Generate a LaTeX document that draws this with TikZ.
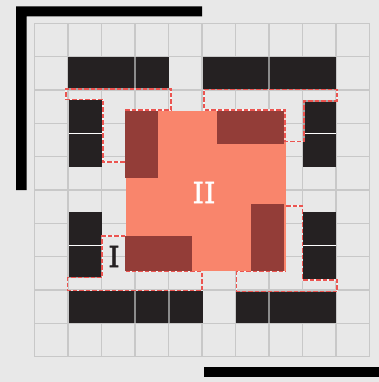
\documentclass[tikz,border=0pt]{standalone}
\usepackage{fontspec}
\setmainfont{DejaVu Serif}
\newfontfamily\labelfont[FakeBold=1.6]{DejaVu Serif}
\definecolor{bgc}{HTML}{E8E8E8}
\definecolor{gridc}{HTML}{C8C8C8}
\definecolor{blockc}{HTML}{252122}
\definecolor{salmonc}{HTML}{F9856C}
\definecolor{brickc}{HTML}{933D38}
\definecolor{dashc}{HTML}{EB5450}
\tikzset{
  barstyle/.style={fill=black,draw=none},
  blockstyle/.style={fill=blockc,draw=none},
  brickstyle/.style={fill=brickc,draw=none},
  sepgray/.style={draw=gridc!70!black,line width=1.1pt},
  sepwhite/.style={draw=white,line width=1pt},
  dashline/.style={draw=dashc,line width=1.4pt,dash pattern=on 4.5pt off 2pt,
    preaction={draw=white,draw opacity=.6,line width=1.6pt,solid}},
}
\begin{document}
\begin{tikzpicture}[x=1pt,y=-1pt]
\useasboundingbox (0,0) rectangle (379,382);
\fill[bgc] (0,0) rectangle (379,382);
% grid
\foreach \k in {0,...,10}{
  \draw[gridc,line width=1.5pt] ({34.3+33.54*\k},23.3) -- ({34.3+33.54*\k},356.7);
  \draw[gridc,line width=1.5pt] (34.3,{23.3+33.34*\k}) -- (369.7,{23.3+33.34*\k});
}
% black bars
\fill[barstyle] (16,6.5) -- (202,6.5) -- (202,16.5) -- (26.5,16.5) -- (26.5,190) -- (16,190) -- cycle;
\fill[barstyle] (204,367) rectangle (379,377);
% dark blocks
\fill[blockstyle] (68,57) rectangle (168.5,90);
\fill[blockstyle] (203,57) rectangle (335.5,90);
\fill[blockstyle] (68.5,100) rectangle (101.5,167);
\fill[blockstyle] (68.5,212) rectangle (101.5,278);
\fill[blockstyle] (303,100) rectangle (336,167);
\fill[blockstyle] (303,212) rectangle (336,279);
\fill[blockstyle] (68.5,291) rectangle (202.5,323);
\fill[blockstyle] (236,291) rectangle (336,323);
\draw[sepgray] (135,57) -- (135,90);
\draw[sepgray] (269,57) -- (269,90);
\draw[sepgray] (135,291) -- (135,323);
\draw[sepgray] (169,291) -- (169,323);
\draw[sepgray] (269,291) -- (269,323);
\draw[sepwhite] (68.5,133.3) -- (101.5,133.3);
\draw[sepwhite] (303,133.3) -- (336,133.3);
\draw[sepwhite] (68.5,245) -- (101.5,245);
\draw[sepwhite] (303,245) -- (336,245);
% salmon square
\fill[salmonc] (126,111) rectangle (286,271);
\fill[brickstyle] (125,111) rectangle (158,178);
\fill[brickstyle] (217,111) rectangle (284,144);
\fill[brickstyle] (251,204) rectangle (284,271);
\fill[brickstyle] (125,236) rectangle (192,271);
% dashed outlines
\draw[dashline] (125,110) -- (171,110) -- (171,89) -- (66,89) -- (66,99.5) -- (103,99.5) -- (103,162) -- (125,162);
\draw[dashline] (204,89.5) -- (337,89.5) -- (337,101) -- (304,101) -- (304,141.5) -- (285,141.5) -- (285,110) -- (204,110) -- cycle;
\draw[dashline] (125,236) -- (102,236) -- (102,277.5) -- (67.5,277.5) -- (67.5,290.5) -- (202,290.5) -- (202,271.5) -- (126,271.5);
\draw[dashline] (286,206) -- (302.5,206) -- (302.5,280) -- (337,280) -- (337,291.5) -- (236.5,291.5) -- (236.5,271.5) -- (286,271.5);
% labels
\node[text=blockc,font=\labelfont\fontsize{29}{29}\selectfont,inner sep=0pt] (labelone) at (114,256.5) {I};
\node[text=white,font=\labelfont\fontsize{29}{29}\selectfont,inner sep=0pt] (labeltwo) at (204,192.5) {II};
\end{tikzpicture}
\end{document}
